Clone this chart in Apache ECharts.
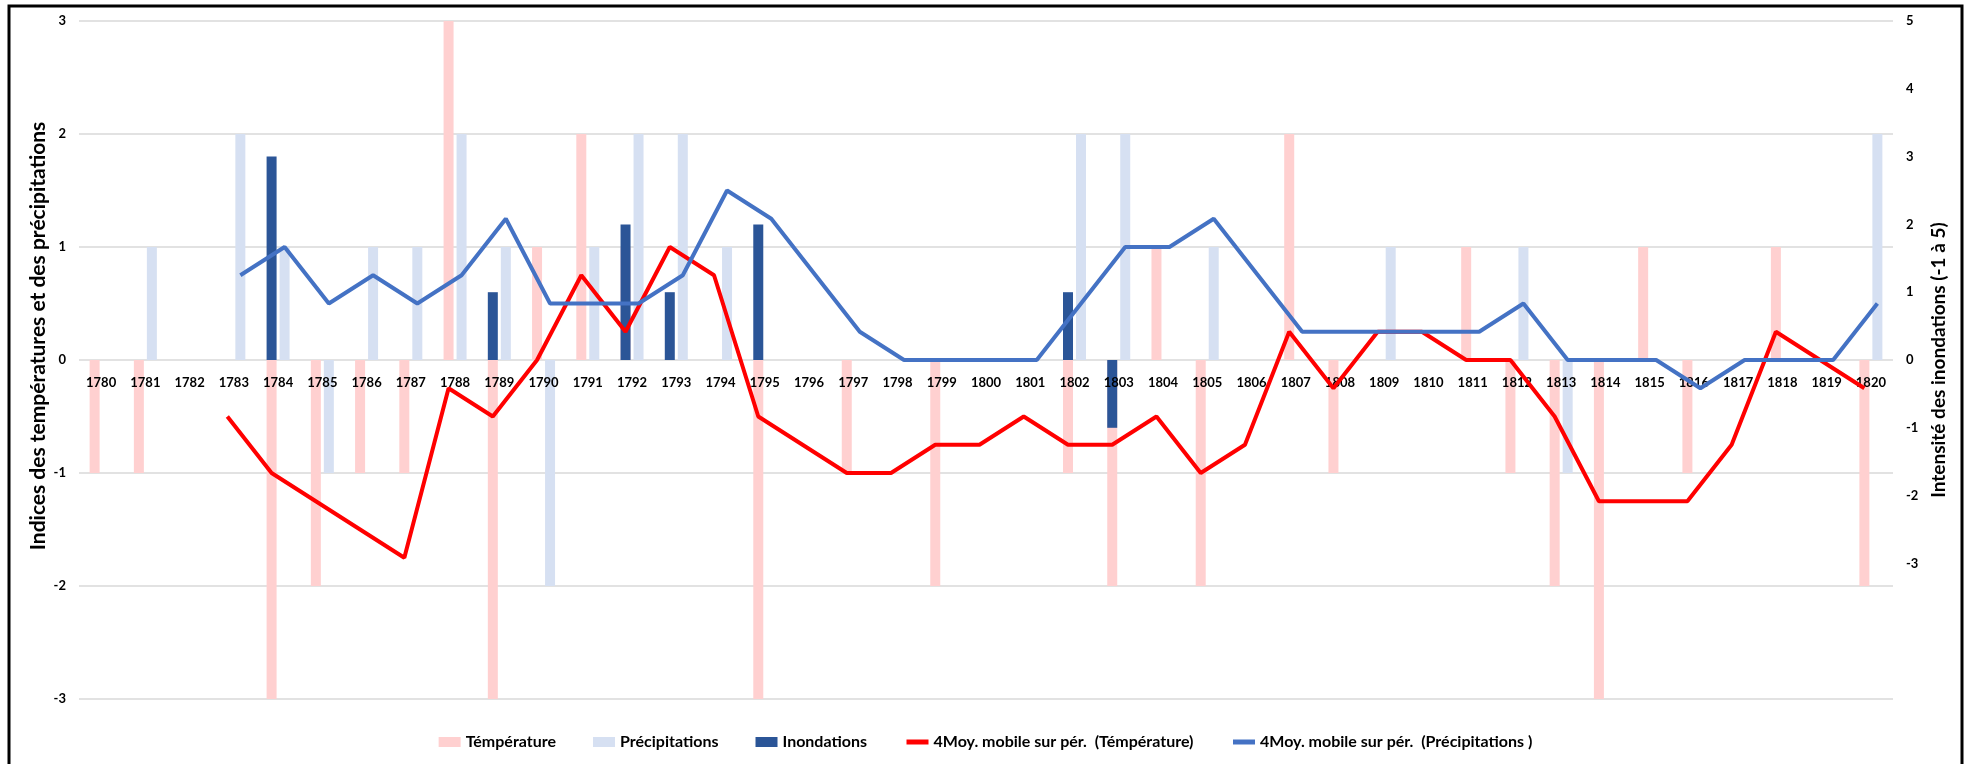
<!DOCTYPE html>
<html>
<head>
<meta charset="utf-8">
<script src="https://cdn.jsdelivr.net/npm/echarts@6/dist/echarts.min.js"></script>
<style>
  html, body { margin: 0; padding: 0; background: #ffffff; }
  #chart { width: 1971px; height: 764px; }
</style>
</head>
<body>
<div id="chart"></div>
<script>
// ---- data ----
const years = ['1780','1781','1782','1783','1784','1785','1786','1787','1788','1789',
               '1790','1791','1792','1793','1794','1795','1796','1797','1798','1799',
               '1800','1801','1802','1803','1804','1805','1806','1807','1808','1809',
               '1810','1811','1812','1813','1814','1815','1816','1817','1818','1819','1820'];

const temperature = [-1,-1,0,0,-3,-2,-1,-1,3,-3,
                     1,2,1,0,0,-3,0,-1,0,-2,
                     0,0,-1,-2,1,-2,0,2,-1,0,
                     0,1,-1,-2,-3,1,-1,0,1,0,
                     -2];

const precipitations = [0,1,0,2,1,-1,1,1,2,1,
                        -2,1,2,2,1,0,0,0,0,0,
                        0,0,2,2,0,1,0,0,0,1,
                        0,0,1,-1,0,0,0,0,0,0,
                        2];

const inondations = [null,null,null,null,3,null,null,null,null,1,
                     null,null,2,1,null,2,null,null,null,null,
                     null,null,1,-1,null,null,null,null,null,null,
                     null,null,null,null,null,null,null,null,null,null,
                     null];

const tempMovingAvg = [null,null,null,-0.5,-1,-1.25,-1.5,-1.75,-0.25,-0.5,
                       0,0.75,0.25,1,0.75,-0.5,-0.75,-1,-1,-0.75,
                       -0.75,-0.5,-0.75,-0.75,-0.5,-1,-0.75,0.25,-0.25,0.25,
                       0.25,0,0,-0.5,-1.25,-1.25,-1.25,-0.75,0.25,0,
                       -0.25];

const precipMovingAvg = [null,null,null,0.75,1,0.5,0.75,0.5,0.75,1.25,
                         0.5,0.5,0.5,0.75,1.5,1.25,0.75,0.25,0,0,
                         0,0,0.5,1,1,1.25,0.75,0.25,0.25,0.25,
                         0.25,0.25,0.5,0,0,0,-0.25,0,0,0,
                         0.5];

const leftTicks = [-3,-2,-1,0,1,2,3];
const rightTicks = [-3,-2,-1,0,1,2,3,4,5];

const names = {
  temp: 'Témpérature',
  precip: 'Précipitations',
  inond: 'Inondations',
  tempMA: '4Moy. mobile sur pér.  (Témpérature)',
  precipMA: '4Moy. mobile sur pér.  (Précipitations )'
};

// ---- styling / layout ----
const FONT = 'Lato';
const SHIFT = 0.147;   // bar offset from category centre, in category units
const GRID_TOP = 21, GRID_BOTTOM = 65, CHART_H = 764;
const pair = (arr, off) => arr.map((v, i) => v === null ? null : [i + off, v]).filter(d => d !== null);

// the category labels sit on the zero line of the left axis (-3..3)
const plotH = CHART_H - GRID_TOP - GRID_BOTTOM;
const zeroOffset = -plotH * (0 - (-3)) / 6;

const chart = echarts.init(document.getElementById('chart'), null, { renderer: 'canvas' });

const option = {
  backgroundColor: '#ffffff',
  animation: false,
  textStyle: { fontFamily: FONT },
  grid: { left: 79, right: 78, top: GRID_TOP, bottom: GRID_BOTTOM, containLabel: false },
  legend: {
    top: 729,
    left: 'center',
    itemGap: 37,
    itemWidth: 22,
    itemHeight: 10,
    textStyle: { fontFamily: FONT, fontWeight: 'bold', fontSize: 16, color: '#000' },
    data: [
      { name: names.temp, icon: 'rect' },
      { name: names.precip, icon: 'rect' },
      { name: names.inond, icon: 'rect' },
      { name: names.tempMA, itemStyle: { opacity: 0 }, lineStyle: { width: 5 } },
      { name: names.precipMA, itemStyle: { opacity: 0 }, lineStyle: { width: 5 } }
    ]
  },
  xAxis: [
    {
      type: 'category',
      data: years,
      position: 'bottom',
      offset: zeroOffset,
      z: 4,
      axisLine: { show: false, onZero: false },
      axisTick: { show: false },
      axisLabel: { fontFamily: FONT, fontWeight: 'bold', fontSize: 13, color: '#000', margin: 16, interval: 0 },
      splitLine: { show: false }
    },
    {
      type: 'value',
      min: -0.5,
      max: years.length - 0.5,
      show: false,
      axisLine: { onZero: false }
    }
  ],
  yAxis: [
    {
      type: 'value',
      min: -3, max: 3, interval: 1,
      axisLine: { show: false },
      axisTick: { show: false },
      axisLabel: { fontFamily: FONT, fontWeight: 'bold', fontSize: 13, color: '#000', margin: 13,
                   formatter: v => leftTicks.includes(v) ? String(v) : '' },
      splitLine: { lineStyle: { color: '#d9d9d9', width: 1.5 } }
    },
    {
      type: 'value',
      min: -5, max: 5, interval: 1,
      position: 'right',
      name: 'Intensité des inondations (-1 à 5)',
      nameLocation: 'middle',
      nameGap: 32,
      nameRotate: 90,
      nameTextStyle: { fontFamily: FONT, fontWeight: 'bold', fontSize: 19, color: '#000' },
      axisLine: { show: false },
      axisTick: { show: false },
      axisLabel: { fontFamily: FONT, fontWeight: 'bold', fontSize: 13, color: '#000', margin: 13,
                   formatter: v => rightTicks.includes(v) ? String(v) : '' },
      splitLine: { show: false }
    }
  ],
  graphic: [
    {
      type: 'rect',
      shape: { x: 9, y: 6, width: 1953, height: 800 },
      style: { fill: null, stroke: '#000', lineWidth: 3 },
      silent: true, z: 100
    },
    {
      type: 'text',
      x: 38, y: 336,
      rotation: Math.PI / 2,
      style: {
        text: 'Indices des températures et des précipitations',
        font: 'bold 21px Lato',
        fill: '#000',
        align: 'center',
        verticalAlign: 'middle'
      },
      silent: true
    }
  ],
  series: [
    {
      name: names.temp, type: 'bar',
      xAxisIndex: 0, yAxisIndex: 0,
      data: temperature,
      barWidth: 10, barGap: '30%',
      itemStyle: { color: '#ffd0d0' },
      z: 2
    },
    {
      name: names.precip, type: 'bar',
      xAxisIndex: 0, yAxisIndex: 0,
      data: precipitations,
      barWidth: 10, barGap: '30%',
      itemStyle: { color: '#d6e0f2' },
      z: 2
    },
    {
      name: names.inond, type: 'bar',
      xAxisIndex: 1, yAxisIndex: 1,
      data: pair(inondations, -SHIFT),
      barWidth: 10,
      itemStyle: { color: '#2b5597' },
      z: 3
    },
    {
      name: names.tempMA, type: 'line',
      xAxisIndex: 1, yAxisIndex: 0,
      data: pair(tempMovingAvg, -SHIFT),
      symbol: 'none',
      lineStyle: { color: '#ff0000', width: 4 },
      itemStyle: { color: '#ff0000' },
      z: 5
    },
    {
      name: names.precipMA, type: 'line',
      xAxisIndex: 1, yAxisIndex: 0,
      data: pair(precipMovingAvg, SHIFT),
      symbol: 'none',
      lineStyle: { color: '#4472c4', width: 4 },
      itemStyle: { color: '#4472c4' },
      z: 6
    }
  ]
};

chart.setOption(option);
</script>
</body>
</html>
